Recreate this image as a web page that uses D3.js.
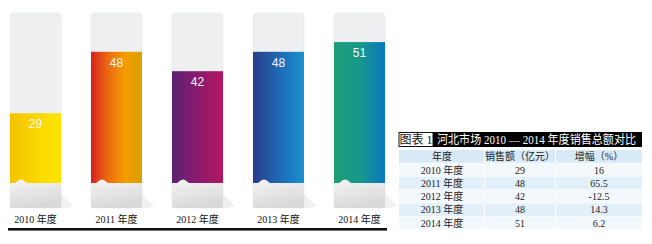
<!DOCTYPE html>
<html>
<head>
<meta charset="utf-8">
<script src="https://cdn.jsdelivr.net/npm/d3@7"></script>
<style>
  body { margin: 0; background: #fff; }
  svg { display: block; }
</style>
</head>
<body>
<svg id="chart" width="652" height="244"></svg>
<script>
// data
const years = ["2010 年度", "2011 年度", "2012 年度", "2013 年度", "2014 年度"];
const sales = [29, 48, 42, 48, 51];
const growth = ["16", "65.5", "-12.5", "14.3", "6.2"];
const tableHead = ["年度", "销售额（亿元）", "增幅（%）"];
const titleTag = "图表 1";
const titleText = "河北市场 2010 — 2014 年度销售总额对比";
const barColors = [
    ["#f4c300", "#f9d600", "#fde600"],
    ["#d81f1e", "#eb6a10", "#f59c00", "#d8a000"],
    ["#5b2372", "#8b1a6d", "#b3175f"],
    ["#2a3d8a", "#1f68b3", "#1a90d0"],
    ["#1f9e78", "#17988a", "#0a78c1"],
];

const svg = d3.select("#chart");
const defs = svg.append("defs");

const x = d3.scaleBand().domain(years).range([10, 385]).paddingInner(30 / 81).paddingOuter(0);
const y = d3.scaleLinear().domain([0, 60]).range([207, 13]);
const cutY = 183; // where the grey foot starts
const footY = 208;

barColors.forEach((cols, i) => {
    const g = defs.append("linearGradient").attr("id", "bar" + i);
    cols.forEach((c, j) => {
        g.append("stop").attr("offset", j / (cols.length - 1)).attr("stop-color", c);
    });
});
const foot = defs.append("linearGradient").attr("id", "foot")
    .attr("x1", 0).attr("y1", 0).attr("x2", 0.3).attr("y2", 1);
foot.append("stop").attr("offset", 0).attr("stop-color", "#f4f4f4");
foot.append("stop").attr("offset", 1).attr("stop-color", "#d9d9d9");

const bars = svg.append("g")
    .selectAll("g")
    .data(years.map((d, i) => ({ year: d, value: sales[i], i: i })))
    .join("g");

// shadow at bottom right
bars.append("path")
    .attr("d", (d) => {
        const x1 = x(d.year) + x.bandwidth();
        return `M${x1},${footY - 14} L${x1 + 12},${footY - 2} L${x1 + 6},${footY} L${x1},${footY} Z`;
    })
    .attr("fill", "#f0f0f0");

// card
bars.append("rect")
    .attr("x", (d) => x(d.year))
    .attr("y", y(60))
    .attr("width", x.bandwidth())
    .attr("height", footY - y(60))
    .attr("rx", 4)
    .attr("fill", "#eeeff0")
    .attr("stroke", "#e6e7e8")
    .attr("stroke-width", 0.6);

// coloured value
bars.append("rect")
    .attr("x", (d) => x(d.year))
    .attr("y", (d) => y(d.value))
    .attr("width", x.bandwidth())
    .attr("height", (d) => cutY + 2 - y(d.value))
    .attr("fill", (d) => `url(#bar${d.i})`);

// grey foot with the small notch
bars.append("path")
    .attr("d", (d) => {
        const x0 = x(d.year), x1 = x0 + x.bandwidth();
        return `M${x0},${cutY} L${x0 + 5},${cutY} L${x0 + 9},${cutY - 3} L${x0 + 11},${cutY - 3.5} ` +
            `L${x0 + 13},${cutY - 3} L${x0 + 17},${cutY} L${x1},${cutY} L${x1},${footY} L${x0},${footY} Z`;
    })
    .attr("fill", "url(#foot)");

bars.append("text")
    .attr("x", (d) => x(d.year) + x.bandwidth() / 2)
    .attr("y", (d) => y(d.value) + 15)
    .attr("text-anchor", "middle")
    .attr("font-family", "Liberation Sans, Arial, sans-serif")
    .attr("font-size", 12)
    .attr("fill", "#f6f6f6")
    .text((d) => d.value);

bars.append("text")
    .attr("x", (d) => x(d.year) + x.bandwidth() / 2)
    .attr("y", 223)
    .attr("text-anchor", "middle")
    .attr("font-family", "Liberation Serif, 'Noto Sans CJK SC', serif")
    .attr("font-size", 10)
    .attr("fill", "#111")
    .text((d) => d.year);

svg.append("rect")
    .attr("x", 8).attr("y", 228)
    .attr("width", 379).attr("height", 2.6)
    .attr("fill", "#111");

// table
const tx = 399, tw = 243;
const cols = d3.scaleOrdinal().domain([0, 1, 2]).range([442, 520, 599]);
const colEdges = [tx, 485, 556, tx + tw];
const rows = d3.scaleBand().domain(d3.range(6)).range([150, 229.8]);

const title = svg.append("g");
title.append("rect").attr("x", tx).attr("y", 132.5).attr("width", 34).attr("height", 14)
    .attr("fill", "#fff").attr("stroke", "#111").attr("stroke-width", 1);
title.append("rect").attr("x", tx + 34).attr("y", 132).attr("width", tw - 34).attr("height", 15)
    .attr("fill", "#000");
title.append("text").attr("x", tx + 17).attr("y", 144).attr("text-anchor", "middle")
    .attr("font-family", "Liberation Serif, 'Noto Sans CJK SC', serif")
    .attr("font-size", 12).attr("fill", "#111").text(titleTag);
title.append("text").attr("x", tx + 38).attr("y", 144)
    .attr("font-family", "Liberation Serif, 'Noto Sans CJK SC', serif")
    .attr("font-size", 12).attr("fill", "#fff")
    .attr("textLength", 199).attr("lengthAdjust", "spacingAndGlyphs")
    .text(titleText);

const rowColors = ["#d8eaf8", "#f3f8fd", "#e3f0fa", "#f3f8fd", "#e3f0fa", "#f3f8fd"];
const tableRows = [tableHead].concat(years.map((d, i) => [d, String(sales[i]), growth[i]]));

const trow = svg.append("g")
    .selectAll("g")
    .data(tableRows)
    .join("g");

trow.each(function (r, ri) {
    const g = d3.select(this);
    r.forEach((cell, ci) => {
        g.append("rect")
            .attr("x", colEdges[ci])
            .attr("y", rows(ri))
            .attr("width", colEdges[ci + 1] - colEdges[ci] - (ci < 2 ? 1 : 0))
            .attr("height", rows.bandwidth() - 0.5)
            .attr("fill", rowColors[ri]);
        g.append("text")
            .attr("x", cols(ci))
            .attr("y", rows(ri) + rows.bandwidth() / 2 + 3.6)
            .attr("text-anchor", "middle")
            .attr("font-family", "Liberation Serif, 'Noto Sans CJK SC', serif")
            .attr("font-size", 10)
            .attr("fill", "#222")
            .text(cell);
    });
});
</script>
</body>
</html>
